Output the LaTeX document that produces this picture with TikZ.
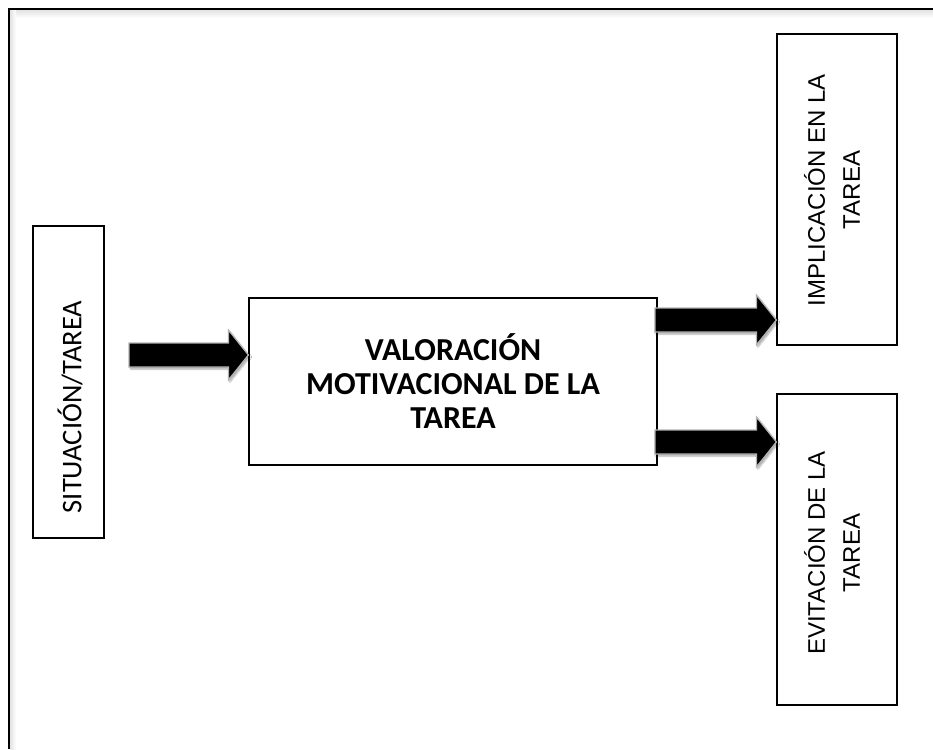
\documentclass[tikz,border=0pt]{standalone}
\usepackage{fontspec}
\newfontfamily\carlito{Carlito}
\newfontfamily\arialfont{Liberation Sans}
\usetikzlibrary{calc,shadows.blur}

\tikzset{
  frameline/.style={line width=1.4pt, black},
  boxnode/.style={draw=black, line width=1.2pt, fill=white, inner sep=0pt},
  vtext/.style={rotate=90, align=center, inner sep=0pt},
  blockarrow/.style={fill=black, draw=gray!60, line width=1.2pt, line join=miter,
    blur shadow={shadow xshift=1.5pt, shadow yshift=-2pt, shadow blur steps=6, shadow opacity=35},
    to path={let \p1=(\tikztostart), \p2=(\tikztotarget) in
      (\x1,\y1+12pt) -- (\x2-20pt,\y1+12pt) -- (\x2-20pt,\y1+25pt) -- (\x2,\y1)
      -- (\x2-20pt,\y1-25pt) -- (\x2-20pt,\y1-12pt) -- (\x1,\y1-12pt) -- cycle}},
}

\begin{document}
\begin{tikzpicture}[x=1pt,y=-1pt]
\useasboundingbox (0,0) rectangle (933,749);

% page frame: only the top and left edges show, with a soft inner shade
\shade[top color=gray!22, bottom color=white] (10,10) rectangle (933,18);
\shade[left color=gray!22, right color=white] (10,10) rectangle (16,749);
\draw[frameline] (9,749) -- (9,9) -- (933,9);

% input box
\node[boxnode, minimum width=71pt, minimum height=312pt] (sit) at (68.5,382) {};
\node[vtext, font=\carlito\fontsize{28.5}{34}\selectfont] (sittext) at (70,407) {SITUACIÓN/TAREA};

% central appraisal box
\node[boxnode, minimum width=408pt, minimum height=167pt, align=center,
      font=\carlito\bfseries\fontsize{32}{34}\selectfont] (val) at (453,381.5)
      {VALORACIÓN\\MOTIVACIONAL DE LA\\TAREA};

% outcome boxes
\node[boxnode, minimum width=120pt, minimum height=311pt] (imp) at (837,189.5) {};
\node[vtext, font=\arialfont\fontsize{24}{35}\selectfont] (imptext) at (832,190)
      {IMPLICACIÓN EN LA\\TAREA};
\node[boxnode, minimum width=120pt, minimum height=311pt] (evi) at (837,549.5) {};
\node[vtext, font=\arialfont\fontsize{24}{35}\selectfont] (evitext) at (832,553)
      {EVITACIÓN DE LA\\TAREA};

% block arrows
\coordinate (a1) at (129,355);
\coordinate (a2) at (655,320);
\coordinate (a3) at (655,442);
\draw[blockarrow] (a1) to (a1 -| val.west);
\draw[blockarrow] (a2) to (a2 -| imp.west);
\draw[blockarrow] (a3) to (a3 -| evi.west);
\end{tikzpicture}
\end{document}
